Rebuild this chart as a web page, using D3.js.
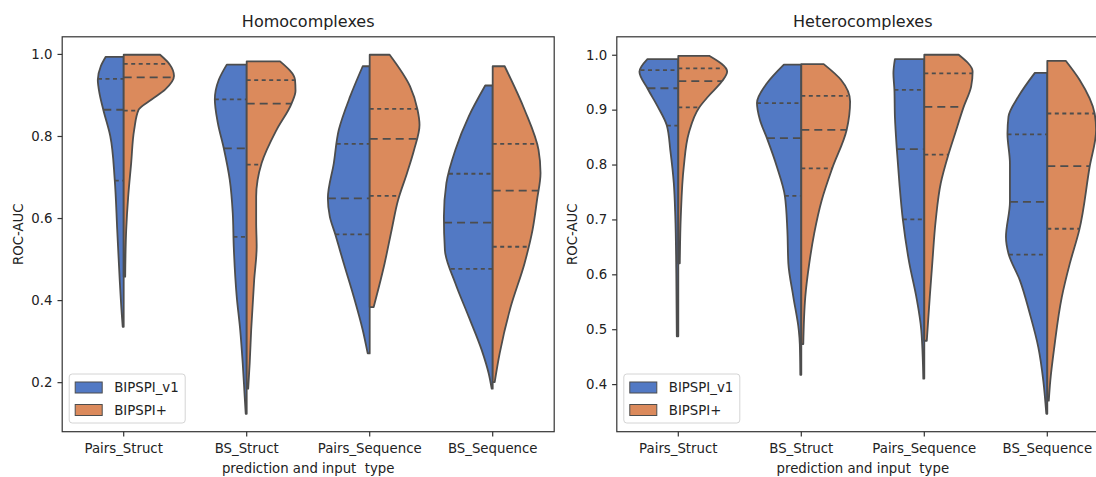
<!DOCTYPE html>
<html>
<head>
  <meta charset="utf-8">
  <title>BIPSPI violins</title>
  <script src="https://d3js.org/d3.v7.min.js"></script>
  <style>
    body { margin: 0; background: #fff; overflow: hidden; }
    svg { display: block; font-family: "DejaVu Sans", sans-serif; }
    text { fill: #222; }
  </style>
</head>
<body>
  <div id="chart"></div>
  <script>
    // categories and hue levels
    var categories = ["Pairs_Struct", "BS_Struct", "Pairs_Sequence", "BS_Sequence"];
    var series = ["BIPSPI_v1", "BIPSPI+"];
    var titles = ["Homocomplexes", "Heterocomplexes"];
    var homoTicks = [0.2, 0.4, 0.6, 0.8, 1.0];
    var heteroTicks = [0.4, 0.5, 0.6, 0.7, 0.8, 0.9, 1.0];

    // density profiles: [ROC-AUC, relative density]
    var homoV1 = [
      [[0.993,0.36],[0.97,0.46],[0.937,0.52],[0.9,0.48],[0.864,0.41],[0.8,0.27],[0.693,0.18],[0.571,0.13],[0.449,0.08],[0.368,0.04],[0.335,0.02]],
      [[0.974,0.40],[0.937,0.56],[0.889,0.64],[0.832,0.58],[0.770,0.46],[0.693,0.34],[0.612,0.28],[0.530,0.26],[0.408,0.20],[0.327,0.13],[0.246,0.08],[0.164,0.04],[0.123,0.02]],
      [[0.970,0.14],[0.897,0.39],[0.815,0.62],[0.734,0.72],[0.648,0.84],[0.603,0.80],[0.560,0.69],[0.489,0.52],[0.408,0.32],[0.327,0.14],[0.270,0.04]],
      [[0.923,0.15],[0.848,0.48],[0.766,0.75],[0.685,0.93],[0.603,0.98],[0.522,0.96],[0.441,0.75],[0.359,0.48],[0.278,0.22],[0.221,0.08],[0.184,0.02]]
    ];
    var homoPlus = [
      [[0.998,0.73],[0.975,0.92],[0.946,1.01],[0.913,0.83],[0.889,0.56],[0.864,0.30],[0.815,0.21],[0.734,0.15],[0.652,0.09],[0.571,0.05],[0.457,0.03]],
      [[0.982,0.67],[0.937,0.97],[0.91,0.98],[0.879,0.90],[0.815,0.60],[0.734,0.30],[0.652,0.19],[0.590,0.19],[0.530,0.20],[0.449,0.15],[0.327,0.09],[0.246,0.06],[0.184,0.03]],
      [[0.998,0.40],[0.921,0.81],[0.864,0.96],[0.827,1.00],[0.766,0.89],[0.71,0.75],[0.644,0.57],[0.571,0.44],[0.49,0.30],[0.43,0.18],[0.383,0.08]],
      [[0.970,0.24],[0.864,0.64],[0.766,0.92],[0.71,0.96],[0.644,0.89],[0.571,0.80],[0.49,0.64],[0.383,0.36],[0.27,0.14],[0.2,0.04]]
    ];
    var heteroV1 = [
      [[0.992,0.62],[0.969,0.78],[0.939,0.62],[0.905,0.41],[0.871,0.23],[0.826,0.16],[0.766,0.09],[0.705,0.06],[0.6,0.04],[0.487,0.03]],
      [[0.982,0.35],[0.948,0.69],[0.912,0.89],[0.881,0.83],[0.848,0.69],[0.796,0.49],[0.743,0.33],[0.68,0.28],[0.62,0.26],[0.559,0.16],[0.498,0.05],[0.473,0.03],[0.417,0.02]],
      [[0.992,0.59],[0.966,0.62],[0.936,0.60],[0.887,0.59],[0.826,0.55],[0.766,0.50],[0.699,0.43],[0.62,0.30],[0.559,0.16],[0.498,0.06],[0.41,0.02]],
      [[0.967,0.25],[0.924,0.58],[0.887,0.78],[0.856,0.80],[0.802,0.75],[0.732,0.75],[0.668,0.83],[0.638,0.78],[0.589,0.55],[0.528,0.35],[0.467,0.18],[0.406,0.08],[0.346,0.02]]
    ];
    var heteroPlus = [
      [[0.998,0.62],[0.969,0.98],[0.952,0.88],[0.924,0.60],[0.904,0.42],[0.857,0.21],[0.796,0.11],[0.705,0.05],[0.62,0.03]],
      [[0.983,0.45],[0.954,0.80],[0.915,0.98],[0.863,0.91],[0.793,0.62],[0.735,0.41],[0.675,0.26],[0.62,0.16],[0.559,0.08],[0.473,0.04]],
      [[1.0,0.69],[0.969,0.97],[0.942,0.94],[0.905,0.79],[0.857,0.62],[0.817,0.48],[0.766,0.33],[0.699,0.23],[0.62,0.16],[0.559,0.11],[0.479,0.05]],
      [[0.989,0.37],[0.954,0.65],[0.893,0.95],[0.863,0.98],[0.796,0.85],[0.68,0.64],[0.619,0.45],[0.558,0.29],[0.467,0.14],[0.406,0.06],[0.37,0.03]]
    ];

    // quartiles [Q1, median, Q3]
    var homoV1Quart = [[0.691,0.864,0.939],[0.554,0.770,0.889],[0.560,0.648,0.781],[0.476,0.589,0.708]];
    var homoPlusQuart = [[0.862,0.943,0.976],[0.730,0.879,0.936],[0.654,0.793,0.866],[0.530,0.667,0.781]];
    var heteroV1Quart = [[0.871,0.939,0.972],[0.743,0.848,0.912],[0.700,0.828,0.936],[0.636,0.732,0.855]];
    var heteroPlusQuart = [[0.904,0.952,0.975],[0.793,0.863,0.925],[0.818,0.905,0.966],[0.683,0.797,0.893]];

    var colors = ["#5279c4", "#db8a5c"];
    var lineColor = "#4d4d4d";

    var W = 1096, H = 477;
    var panelLeft = [62.2, 616.8], panelWidth = 492, plotTop = 36.8, plotBottom = 431.7;

    var svg = d3.select("#chart").append("svg")
      .attr("width", W).attr("height", H);

    var panels = [
      {title: titles[0], ticks: homoTicks, prof: [homoV1, homoPlus], quart: [homoV1Quart, homoPlusQuart]},
      {title: titles[1], ticks: heteroTicks, prof: [heteroV1, heteroPlus], quart: [heteroV1Quart, heteroPlusQuart]}
    ];

    // width of the half violin at a value (linear between profile points)
    function widthAt(prof, v) {
      for (var i = 0; i < prof.length - 1; i++) {
        var a = prof[i], b = prof[i + 1];
        if (v <= a[0] && v >= b[0]) {
          var t = (a[0] - v) / (a[0] - b[0]);
          return a[1] + t * (b[1] - a[1]);
        }
      }
      return 0;
    }

    panels.forEach(function(p, pi) {
      var left = panelLeft[pi];
      var g = svg.append("g");

      // y limits like matplotlib autoscale: data range + 5% margins
      var all = [];
      p.prof.forEach(function(s) { s.forEach(function(c) { c.forEach(function(d) { all.push(d[0]); }); }); });
      var lo = d3.min(all), hi = d3.max(all), m = (hi - lo) * 0.05;

      var x = d3.scaleBand().domain(categories).range([left, left + panelWidth]);
      var y = d3.scaleLinear().domain([lo - m, hi + m]).range([plotBottom, plotTop]);
      var w = d3.scaleLinear().domain([0, 1]).range([0, x.bandwidth() * 0.405]);

      // violins
      categories.forEach(function(cat, ci) {
        var cx = x(cat) + x.bandwidth() / 2;
        [0, 1].forEach(function(si) {
          var sign = si === 0 ? -1 : 1;
          var prof = p.prof[si][ci];
          var area = d3.area()
            .curve(d3.curveMonotoneY)
            .y(function(d) { return y(d[0]); })
            .x0(cx)
            .x1(function(d) { return cx + sign * w(d[1]); });
          g.append("path")
            .attr("d", area(prof))
            .attr("fill", colors[si])
            .attr("stroke", lineColor)
            .attr("stroke-width", 1.8)
            .attr("stroke-linejoin", "round");

          p.quart[si][ci].forEach(function(q, qi) {
            var hw = w(widthAt(prof, q));
            var x1 = si === 0 ? cx - hw : cx;
            var x2 = si === 0 ? cx : cx + hw;
            g.append("line")
              .attr("x1", x1).attr("x2", x2)
              .attr("y1", y(q)).attr("y2", y(q))
              .attr("stroke", lineColor)
              .attr("stroke-width", 1.8)
              .attr("stroke-dasharray", qi === 1 ? "8,5" : "4,3.5");
          });
        });
      });

      // frame
      g.append("rect")
        .attr("x", left).attr("y", plotTop)
        .attr("width", panelWidth).attr("height", plotBottom - plotTop)
        .attr("fill", "none").attr("stroke", "#333").attr("stroke-width", 1.2);

      // y axis
      var yAxis = g.append("g")
        .attr("transform", "translate(" + left + ",0)")
        .call(d3.axisLeft(y).tickValues(p.ticks).tickFormat(d3.format(".1f")).tickSize(4.7).tickPadding(5));
      yAxis.select(".domain").remove();
      yAxis.selectAll("line").attr("stroke", "#333").attr("stroke-width", 1.2);
      yAxis.selectAll("text").style("font-size", "13.3px").attr("fill", "#222")
        .style("font-family", "DejaVu Sans, sans-serif");

      // x axis
      var xAxis = g.append("g")
        .attr("transform", "translate(0," + plotBottom + ")")
        .call(d3.axisBottom(x).tickSize(4.7).tickPadding(7));
      xAxis.select(".domain").remove();
      xAxis.selectAll("line").attr("stroke", "#333").attr("stroke-width", 1.2);
      xAxis.selectAll("text").style("font-size", "13.3px").attr("fill", "#222")
        .style("font-family", "DejaVu Sans, sans-serif");

      // labels
      g.append("text")
        .attr("x", left + panelWidth / 2).attr("y", 26.5)
        .attr("text-anchor", "middle").style("font-size", "16px")
        .text(p.title);
      g.append("text")
        .attr("x", left + panelWidth / 2).attr("y", 473)
        .attr("text-anchor", "middle").style("font-size", "13.3px")
        .style("white-space", "pre")
        .text("prediction and input  type");
      g.append("text")
        .attr("transform", "translate(" + (left - 39.5) + "," + ((plotTop + plotBottom) / 2) + ") rotate(-90)")
        .attr("text-anchor", "middle").style("font-size", "13.3px")
        .text("ROC-AUC");

      // legend
      var lg = g.append("g").attr("transform", "translate(" + (left + 7) + ",374)");
      lg.append("rect")
        .attr("width", 116).attr("height", 49).attr("rx", 3)
        .attr("fill", "#fff").attr("fill-opacity", 0.8)
        .attr("stroke", "#d4d4d4").attr("stroke-width", 1);
      series.forEach(function(s, si) {
        lg.append("rect")
          .attr("x", 6).attr("y", 8 + si * 22.5)
          .attr("width", 27).attr("height", 11)
          .attr("fill", colors[si]).attr("stroke", lineColor).attr("stroke-width", 1);
        lg.append("text")
          .attr("x", 45).attr("y", 13.5 + si * 22.5)
          .attr("dy", "0.35em").style("font-size", "13.3px")
          .text(s);
      });
    });
  </script>
</body>
</html>
